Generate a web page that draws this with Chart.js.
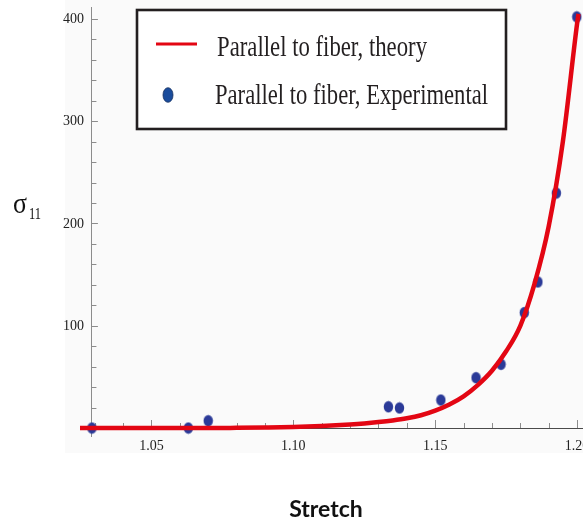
<!DOCTYPE html>
<html>
<head>
<meta charset="utf-8">
<script src="https://cdn.jsdelivr.net/npm/chart.js@4.4.1/dist/chart.umd.min.js"></script>
<style>
  html, body { margin: 0; padding: 0; background: #fff; overflow: hidden; }
  #wrap { width: 583px; height: 521px; }
</style>
</head>
<body>
<div id="wrap"><canvas id="sigma" width="583" height="521"></canvas></div>
<script>
// experimental points (stretch, sigma_11)
var expStretch = [1.029, 1.063, 1.070, 1.1335, 1.1374, 1.152, 1.1644, 1.1732, 1.1814, 1.1862, 1.1927, 1.1999];
var expSigma   = [0, 0, 7.1, 20.8, 19.6, 27.4, 49.2, 62.3, 112.8, 142.8, 229.8, 402];

// theory curve
var theoryStretch = [1.0248, 1.04, 1.05, 1.06, 1.07, 1.08, 1.09, 1.10, 1.11, 1.12, 1.125, 1.13, 1.135,
                     1.14, 1.145, 1.15, 1.155, 1.16, 1.165, 1.17, 1.175, 1.18, 1.185, 1.19, 1.195,
                     1.20, 1.2005];
var theorySigma   = [0, 0, 0, 0, 0, 0.2, 0.5, 1, 2, 3.5, 4.5, 5.8, 7.4,
                     9.5, 12.5, 17, 23, 31, 42, 56, 75, 100, 141, 197, 280,
                     395, 405];

// tick positions (minor + major) and the labelled ones
var xTickValues = [1.03, 1.04, 1.05, 1.06, 1.07, 1.08, 1.09, 1.10, 1.11, 1.12, 1.13, 1.14,
                   1.15, 1.16, 1.17, 1.18, 1.19, 1.20];
var xTickLabels = ['1.05', '1.10', '1.15', '1.20'];
var yTickValues = [20, 40, 60, 80, 100, 120, 140, 160, 180, 200, 220, 240, 260, 280, 300,
                   320, 340, 360, 380, 400];
var yTickLabels = ['100', '200', '300', '400'];
var yAxisAt = 1.029;   // where the sigma axis crosses

var legendLabels = ['Parallel to fiber, theory', 'Parallel to fiber, Experimental'];

function isStep(v, step) {
  return Math.abs(v / step - Math.round(v / step)) < 1e-6;
}

// elliptic marker like the original
function dotImage(color) {
  var c = document.createElement('canvas');
  c.width = 11; c.height = 13;
  var g = c.getContext('2d');
  g.fillStyle = color;
  g.beginPath();
  g.ellipse(5.5, 6.5, 4.7, 5.7, 0, 0, Math.PI * 2);
  g.fill();
  return c;
}

var bgPlugin = {
  id: 'bg',
  beforeDraw: function (chart) {
    var ctx = chart.ctx;
    ctx.save();
    ctx.fillStyle = '#ffffff';
    ctx.fillRect(0, 0, chart.width, chart.height);
    ctx.fillStyle = '#fafafa';
    ctx.fillRect(65, 0, chart.width - 65, 453);
    ctx.restore();
  }
};

// tick marks pointing into the plot, y labels left of the crossing axis
var innerTicks = {
  id: 'innerTicks',
  beforeDatasetsDraw: function (chart) {
    var ctx = chart.ctx, xs = chart.scales.x, ys = chart.scales.y;
    var x0 = xs.getPixelForValue(yAxisAt), y0 = ys.getPixelForValue(0);
    ctx.save();
    ctx.strokeStyle = '#8c8c8c';
    ctx.lineWidth = 1;
    ys.ticks.forEach(function (t) {
      var len = isStep(t.value, 100) ? 6 : 4.5;
      var py = Math.round(ys.getPixelForValue(t.value)) + 0.5;
      ctx.beginPath(); ctx.moveTo(x0, py); ctx.lineTo(x0 + len, py); ctx.stroke();
    });
    xs.ticks.forEach(function (t) {
      var len = isStep(t.value, 0.05) ? 8 : 5;
      var px = Math.round(xs.getPixelForValue(t.value)) + 0.5;
      ctx.beginPath(); ctx.moveTo(px, y0); ctx.lineTo(px, y0 - len); ctx.stroke();
    });
    ctx.fillStyle = '#222';
    ctx.font = '14px "Liberation Serif"';
    ctx.textAlign = 'right';
    ctx.textBaseline = 'middle';
    ys.ticks.forEach(function (t) {
      if (!t.label) return;
      ctx.fillText(t.label, x0 - 8, ys.getPixelForValue(t.value) + 0.5);
    });
    ctx.restore();
  }
};

// legend box and axis titles
var textPlugin = {
  id: 'texts',
  afterDraw: function (chart) {
    var ctx = chart.ctx;
    ctx.save();
    ctx.fillStyle = '#ffffff';
    ctx.fillRect(137, 10, 369, 119);
    ctx.strokeStyle = '#231f20';
    ctx.lineWidth = 2.6;
    ctx.strokeRect(137, 10, 369, 119);

    ctx.strokeStyle = '#e30613';
    ctx.lineWidth = 3;
    ctx.beginPath(); ctx.moveTo(156, 44); ctx.lineTo(197, 44); ctx.stroke();

    ctx.fillStyle = '#1a4c9c';
    ctx.beginPath(); ctx.ellipse(168, 95, 5, 7.3, 0, 0, Math.PI * 2); ctx.fill();
    ctx.strokeStyle = '#16305e'; ctx.lineWidth = 0.8; ctx.stroke();

    ctx.fillStyle = '#231f20';
    ctx.textAlign = 'left';
    ctx.textBaseline = 'alphabetic';
    ctx.font = '29px "Liberation Serif"';
    ctx.fillText(legendLabels[0], 217, 56, 210);
    ctx.fillText(legendLabels[1], 215, 104, 273);

    // sigma_11
    ctx.fillStyle = '#111';
    ctx.font = '29px "Liberation Serif"';
    ctx.fillText('σ', 13, 213, 14);
    ctx.font = '16px "Liberation Serif"';
    ctx.fillText('11', 29, 219, 12);

    // Stretch
    ctx.font = 'bold 23px Lato';
    ctx.textAlign = 'center';
    ctx.fillText('Stretch', 326, 517, 80);
    ctx.restore();
  }
};

var theoryPts = theoryStretch.map(function (x, i) { return { x: x, y: theorySigma[i] }; });
var expPts = expStretch.map(function (x, i) { return { x: x, y: expSigma[i] }; });

new Chart(document.getElementById('sigma'), {
  type: 'scatter',
  data: {
    datasets: [{
      label: legendLabels[0],
      data: theoryPts,
      showLine: true,
      borderColor: '#e30613',
      borderWidth: 4.5,
      pointRadius: 0,
      cubicInterpolationMode: 'monotone',
      order: 0
    }, {
      label: legendLabels[1],
      data: expPts,
      pointStyle: dotImage('#2b3a98'),
      pointRadius: 5,
      order: 1
    }]
  },
  options: {
    responsive: false,
    animation: false,
    layout: { autoPadding: false, padding: { left: 80, right: 0, top: 7, bottom: 85 } },
    plugins: { legend: { display: false }, tooltip: { enabled: false } },
    scales: {
      x: {
        type: 'linear',
        position: { y: 0 },
        min: 1.0248,
        max: 1.2021,
        z: 1,
        grid: { display: false, drawTicks: false },
        border: { display: true, color: '#4a4a4a', width: 1 },
        afterBuildTicks: function (s) {
          s.ticks = xTickValues.map(function (v) { return { value: v }; });
        },
        ticks: {
          autoSkip: false,
          maxRotation: 0,
          padding: 10,
          color: '#222',
          font: { family: 'Liberation Serif', size: 14 },
          callback: function (v) {
            var s = v.toFixed(2);
            return xTickLabels.indexOf(s) >= 0 ? s : '';
          }
        },
        afterFit: function (s) {
          s.height = 0;
          s.paddingLeft = s.paddingRight = s.paddingTop = s.paddingBottom = 0;
        }
      },
      y: {
        type: 'linear',
        position: { x: yAxisAt },
        min: -7.8,
        max: 411.7,
        grid: { display: false, drawTicks: false },
        border: { display: true, color: '#8c8c8c', width: 1 },
        afterBuildTicks: function (s) {
          s.ticks = yTickValues.map(function (v) { return { value: v }; });
        },
        ticks: {
          display: false,
          autoSkip: false,
          callback: function (v) {
            var s = String(Math.round(v));
            return yTickLabels.indexOf(s) >= 0 ? s : '';
          }
        },
        afterFit: function (s) {
          s.width = 0;
          s.paddingLeft = s.paddingRight = s.paddingTop = s.paddingBottom = 0;
        }
      }
    }
  },
  plugins: [bgPlugin, innerTicks, textPlugin]
});
</script>
</body>
</html>
